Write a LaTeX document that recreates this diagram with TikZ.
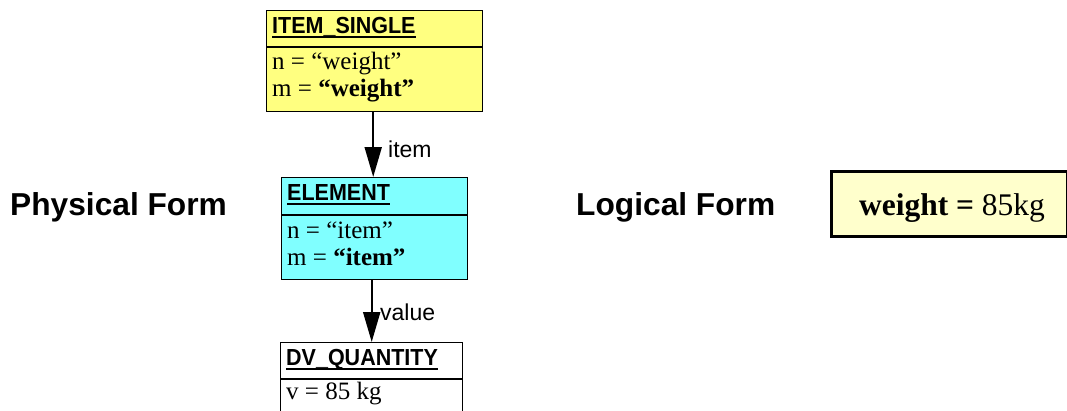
\documentclass[tikz,border=0pt]{standalone}
\usepackage{fontspec}
\setmainfont{Liberation Serif}
\setsansfont{Liberation Sans}
\usetikzlibrary{arrows.meta}
\definecolor{clsyellow}{HTML}{FFFF80}
\definecolor{clscyan}{HTML}{80FFFF}
\definecolor{logyellow}{HTML}{FFFFCC}
\tikzset{
  classbox/.style={draw=black, line width=1.4pt, inner sep=0pt, anchor=north west},
  hdr/.style={inner sep=0pt, anchor=base west, font=\fontsize{21.5}{24}\selectfont\sffamily\bfseries},
  attr/.style={inner sep=0pt, anchor=base west, font=\fontsize{25}{28}\selectfont\rmfamily},
  uline/.style={line width=1.8pt},
  divider/.style={line width=1.2pt},
  arr/.style={line width=2pt, -{Triangle[width=17pt,length=30pt]}},
  lbl/.style={inner sep=0pt, anchor=base west, font=\fontsize{23}{26}\selectfont\sffamily},
  title/.style={inner sep=0pt, anchor=base west, font=\fontsize{31.7}{36}\selectfont\sffamily\bfseries},
}
\begin{document}
\begin{tikzpicture}[x=1pt,y=-1pt]
\useasboundingbox (0,0) rectangle (1067,410);
\clip (0,0) rectangle (1067,410);

% ITEM_SINGLE
\node[classbox, fill=clsyellow, minimum width=216, minimum height=101] (is) at (266,10) {};
\draw[divider] (266,47) -- (482,47);
\node[hdr] (ish) at (272,33) {\scalebox{1}[1.08]{ITEM\_SINGLE}};
\draw[uline] ([yshift=-3.6pt]ish.base west) -- ([yshift=-3.6pt]ish.base east);
\node[attr] (isn) at (272,69) {n = “weight”};
\node[attr] (ism) at (272,96) {m = \textbf{“weight”}};

% ELEMENT
\node[classbox, fill=clscyan, minimum width=186, minimum height=102] (el) at (281,177) {};
\draw[divider] (281,215) -- (467,215);
\node[hdr] (elh) at (287,200) {\scalebox{1}[1.08]{ELEMENT}};
\draw[uline] ([yshift=-3.6pt]elh.base west) -- ([yshift=-3.6pt]elh.base east);
\node[attr] (eln) at (287,238) {n = “item”};
\node[attr] (elm) at (287,265) {m = \textbf{“item”}};

% DV_QUANTITY
\node[classbox, fill=white, minimum width=182, minimum height=90] (dv) at (280,342) {};
\draw[divider] (280,379) -- (462,379);
\node[hdr] (dvh) at (286,365) {\scalebox{1}[1.08]{DV\_QUANTITY}};
\draw[uline] ([yshift=-3.6pt]dvh.base west) -- ([yshift=-3.6pt]dvh.base east);
\node[attr] (dvv) at (286,399) {v = 85 kg};

% connectors
\draw[arr] ([xshift=-1.5pt]is.south) -- ([xshift=-1.5pt]is.south |- el.north);
\node[lbl] (litem) at (388,157) {item};
\draw[arr] (dv.north |- el.south) -- (dv.north);
\node[lbl] (lvalue) at (380,320) {value};

% titles
\node[title] (phys) at (10,215) {Physical Form};
\node[title] (logi) at (576,215) {Logical Form};

% logical form box
\node[draw=black, line width=3pt, fill=logyellow, minimum width=236, minimum height=65, inner sep=0pt, anchor=north west] (lf) at (830,170) {};
\node[inner sep=0pt, anchor=base, font=\fontsize{31.5}{36}\selectfont\rmfamily] (lft) at (952,215) {\textbf{weight =} 85kg};
\end{tikzpicture}
\end{document}
